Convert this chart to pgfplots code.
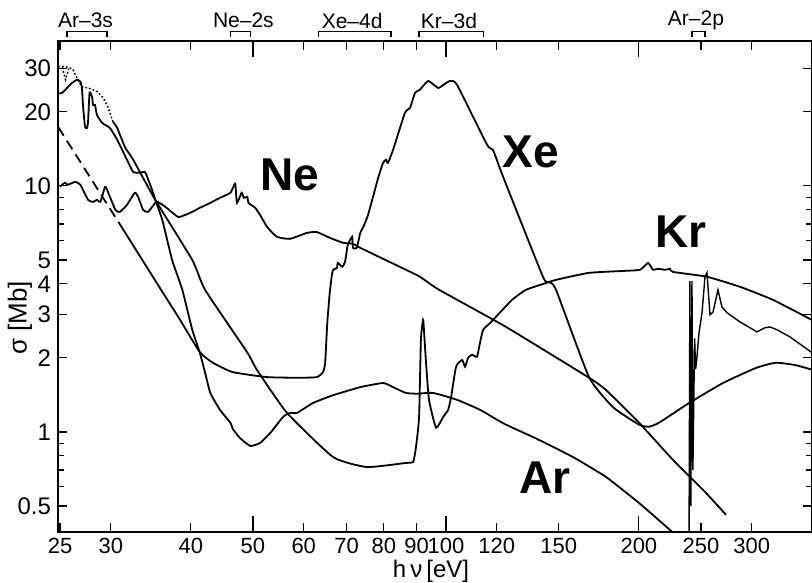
\documentclass[border=0pt]{standalone}
\usepackage{fontspec}
\setmainfont{Liberation Sans}
\usepackage{pgfplots}
\pgfplotsset{compat=1.18}
\begin{document}
\begin{tikzpicture}
\begin{axis}[name=ax, scale only axis, width=377pt, height=245.5pt,
 xmode=log, ymode=log, xmin=24.82, xmax=372.5, ymin=0.392, ymax=38.8,
 xtick={25,30,40,50,60,70,80,90,100,120,150,200,250,300},
 xticklabels={25,30,40,50,60,70,80,90,100,120,150,200,250,300},
 ytick={0.5,1,2,3,4,5,10,20,30},
 yticklabels={0.5,1,2,3,4,5,10,20,30},
 minor ytick={0.6,0.7,0.8,0.9,6,7,8,9},
 tick align=inside,
 major tick length=4.5pt, minor tick length=3pt,
 tick style={black, line width=0.6pt},
 axis line style={line width=0.8pt},
 xticklabel style={font=\fontsize{11}{12}\selectfont, inner sep=1pt, yshift=-2pt},
 yticklabel style={font=\fontsize{12}{12}\selectfont},
 extra x ticks={50,100,200},
 extra x tick labels={},
 extra x tick style={major tick length=8pt},
 clip=false,
 cycle list={{black, solid}},
 every axis plot/.append style={line width=0.9pt, black, no markers},
]
% Ne
\addplot+[smooth, tension=0.3] coordinates {(25,9.93)(25.45,10.3)(25.7,10.1)(26.4,10.38)(26.9,10.1)(27.65,8.77)(28.15,8.61)(28.55,8.77)(28.9,8.61)(29.4,9.91)(29.7,9.45)(30.5,7.99)(31.0,7.84)(31.8,8.37)(32.7,9.37)(33.1,9.02)(33.7,7.99)(34.3,7.84)(35.2,8.53)(35.5,8.61)(36.5,8.22)(38.2,7.48)(39.2,7.62)(40.2,7.84)(41.3,8.14)(42.9,8.53)(44.4,8.94)(46.1,9.37)(46.9,10.2)(47.2,8.53)(48.0,9.37)(48.4,8.94)(49.0,9.02)(49.2,8.53)(50.4,8.14)(51.3,7.62)(52.6,6.81)(54.5,6.21)(57.1,6.09)(60.7,6.44)(62.9,6.49)(65.9,6.15)(69.1,5.87)(71.6,5.82)(73.5,5.6)(86.6,4.56)(91.1,4.27)(97.6,3.78)(124.1,2.67)(167.2,1.66)(177.7,1.48)(200.1,1.09)(226,0.77)(254.5,0.565)(273.5,0.46)};
% Ar
\addplot+[smooth, tension=0.3] coordinates {(24.85,23.7)(25.2,23.9)(25.64,25.0)(26.1,26.2)(26.6,27.0)(26.9,26.5)(27.05,25.0)(27.15,21.3)(27.35,17.4)(27.55,17.2)(27.65,18.2)(27.8,23.9)(28.05,23.0)(28.15,21.3)(28.35,21.3)(28.55,19.4)(29.1,18.0)(29.9,17.2)(30.7,15.4)(31.8,12.76)(32.5,11.4)(33.3,11.3)(33.9,11.4)(34.2,10.88)(34.8,9.63)(35.2,8.77)(36.1,7.27)(37.4,5.0)(38.8,3.78)(40.2,2.60)(41.3,2.10)(42.1,1.74)(42.9,1.44)(44.4,1.23)(46.1,1.09)(46.5,1.03)(47.7,0.945)(49.5,0.877)(51.3,0.902)(53.2,0.99)(55.7,1.15)(57.1,1.195)(58.6,1.195)(62.0,1.31)(66.7,1.41)(73.5,1.52)(79.8,1.58)(82.7,1.52)(86.6,1.44)(90.1,1.43)(95.5,1.44)(104.1,1.35)(113,1.23)(120.2,1.12)(124.1,1.07)(139.7,0.928)(157.9,0.79)(177.7,0.656)(200.1,0.514)(226,0.39)};
% Ar 2p
\addplot+[line width=0.7pt] coordinates {(239.5,0.39)(240.2,4.1)(241.0,0.5)(242.0,4.1)(242.8,0.7)(244.3,2.4)(245.2,1.8)(246.4,2.02)(248.2,2.53)(250.9,3.05)(253.6,4.27)(255.4,4.43)(258.2,2.99)(261,3.07)(265.7,3.78)(269.5,3.22)(274.5,3.05)(287.5,2.80)(305.7,2.55)(314.5,2.65)(320.3,2.67)(328.5,2.60)(344.3,2.43)(372.5,2.10)};
% Kr dotted
\addplot[black, densely dotted, line width=0.7pt] coordinates {(24.85,30.5)(25.45,30.5)(25.9,30.2)(26.2,29.6)(26.5,27.8)(26.8,26.2)(27.1,25.2)(27.7,25.0)(28.6,24.1)(29.2,22.8)(29.7,20.9)(30.25,18.2)};
\addplot[black, densely dotted, line width=0.7pt] coordinates {(25.2,30.3)(25.5,27.0)(25.8,29.9)};
% Kr
\addplot+[smooth, tension=0.3] coordinates {(30.25,18.2)(30.7,17.2)(31.6,14.3)(32.5,12.8)(35.2,8.77)(40.2,5.0)(42.1,3.78)(49.0,2.10)(50.7,1.79)(56.5,1.195)(66.7,0.79)(75.3,0.72)(86.6,0.748)(88.9,0.755)(89.8,0.869)(90.8,1.15)(91.4,2.37)(92.1,2.85)(92.3,2.72)(93.1,1.91)(94.1,1.35)(96.5,1.04)(99.0,1.15)(100.8,1.23)(101.9,1.39)(103.7,1.84)(106.0,1.96)(107.1,1.84)(108.3,2.0)(109.8,2.06)(111.8,2.02)(113,2.30)(114.3,2.60)(117.2,2.77)(119.3,2.91)(126.8,3.44)(133.3,3.78)(143.3,4.03)(148.5,4.15)(167.2,4.43)(188.9,4.51)(200.8,4.56)(206.7,4.86)(210.4,4.56)(214.2,4.6)(219.7,4.56)(223.6,4.6)(226,4.47)(255.4,4.27)(287.5,3.89)(323.8,3.44)(372.5,2.85)};
% Xe dashed
\addplot[black, dash pattern=on 5pt off 3pt] coordinates {(24.85,17.3)(31.4,6.62)};
% Xe
\addplot+[smooth, tension=0.3] coordinates {(31.4,6.62)(36.2,3.67)(38.5,2.85)(41.3,2.11)(43.3,1.91)(46.5,1.75)(52.6,1.67)(59.2,1.66)(62.9,1.67)(64.3,1.75)(64.8,1.91)(65.3,2.77)(65.9,3.71)(66.4,4.35)(66.7,4.56)(67.6,4.64)(67.8,4.86)(68.9,4.69)(69.6,4.91)(70.3,5.76)(71.4,6.21)(71.6,5.6)(72.6,5.6)(73.5,6.44)(74.2,6.75)(75.6,7.62)(78.4,10.78)(79.8,12.4)(80.6,12.76)(81.2,12.4)(82.7,14.0)(86.3,19.8)(87.9,20.75)(89.5,23.9)(91.1,24.6)(93.8,26.7)(97.2,25.0)(99.0,25.7)(101.5,26.7)(104.1,25.7)(115.9,14.7)(118.4,14.0)(122.8,10.88)(141.7,4.27)(144.8,4.07)(148.5,3.78)(167.2,1.67)(182.3,1.26)(200.1,1.07)(207.4,1.05)(215,1.09)(239.5,1.31)(270.5,1.58)(304.6,1.82)(327,1.91)(350.5,1.87)(372.5,1.79)};
% element labels
\node[font=\bfseries\fontsize{23}{23}\selectfont] at (axis cs:57.1,11.1) {Ne};
\node[font=\bfseries\fontsize{23}{23}\selectfont] at (axis cs:135.7,13.75) {Xe};
\node[font=\bfseries\fontsize{23}{23}\selectfont] at (axis cs:232.7,6.5) {Kr};
\node[font=\bfseries\fontsize{23}{23}\selectfont] at (axis cs:142.8,0.65) {Ar};
% brackets
\draw[line width=0.6pt] (axis cs:25.64,40.3) -- (axis cs:25.64,42.3) -- (axis cs:29.6,42.3) -- (axis cs:29.6,40.3);
\draw[line width=0.6pt] (axis cs:46.1,40.3) -- (axis cs:46.1,42.3) -- (axis cs:49.5,42.3) -- (axis cs:49.5,40.3);
\draw[line width=0.6pt] (axis cs:63.2,40.3) -- (axis cs:63.2,42.3) -- (axis cs:82.1,42.3) -- (axis cs:82.1,40.3);
\draw[line width=0.6pt] (axis cs:90.8,40.3) -- (axis cs:90.8,42.3) -- (axis cs:114.3,42.3) -- (axis cs:114.3,40.3);
\draw[line width=0.6pt] (axis cs:242.1,40.3) -- (axis cs:242.1,42.3) -- (axis cs:253.6,42.3) -- (axis cs:253.6,40.3);
\node[font=\fontsize{10.5}{11}\selectfont] at (axis cs:27.4,46.9) {Ar--3s};
\node[font=\fontsize{10.5}{11}\selectfont] at (axis cs:48.3,46.9) {Ne--2s};
\node[font=\fontsize{10.5}{11}\selectfont] at (axis cs:71.4,46.9) {Xe--4d};
\node[font=\fontsize{10.5}{11}\selectfont] at (axis cs:101.1,46.9) {Kr--3d};
\node[font=\fontsize{10.5}{11}\selectfont] at (axis cs:245.5,46.9) {Ar--2p};
% axis labels
\node[rotate=90, font=\fontsize{13}{13}\selectfont] at ([xshift=-19pt]rel axis cs:0,0.436) {σ [Mb]};
\node[font=\fontsize{12}{12}\selectfont, inner sep=0pt] at ([yshift=-19.5pt]rel axis cs:0.4947,0) {h\,ν\,[eV]};
\end{axis}
\pgfresetboundingbox
\path[use as bounding box] ([xshift=-29pt,yshift=-25.5pt]ax.south west) rectangle ([yshift=20.5pt]ax.north east);
\end{tikzpicture}
\end{document}
